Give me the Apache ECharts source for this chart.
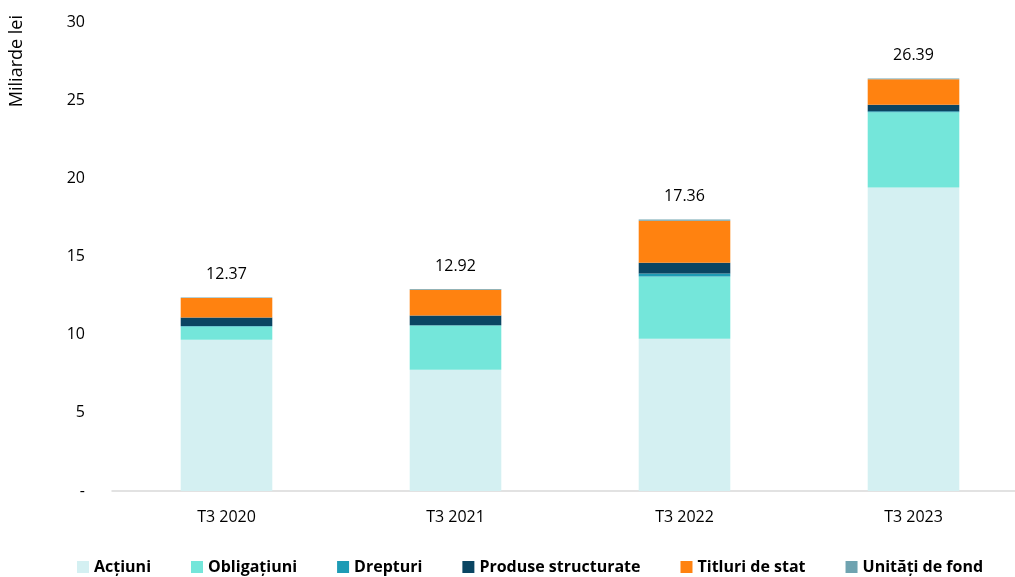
<!DOCTYPE html>
<html>
<head>
<meta charset="utf-8">
<script src="https://cdn.jsdelivr.net/npm/echarts@6/dist/echarts.min.js"></script>
<style>
	html, body { margin: 0; padding: 0; background: #fff; }
	#chart { width: 1015px; height: 577px; }
</style>
</head>
<body>
<div id="chart"></div>
<script>
// categorii (trimestre)
var categories = [ 'T3 2020', 'T3 2021', 'T3 2022', 'T3 2023' ];
// valori, miliarde lei
var actiuni = [ 9.68, 7.76, 9.74, 19.42 ];
var obligatiuni = [ 0.85, 2.82, 3.98, 4.81 ];
var drepturi = [ 0.02, 0.02, 0.20, 0.06 ];
var produseStructurate = [ 0.55, 0.62, 0.68, 0.42 ];
var titluriDeStat = [ 1.24, 1.66, 2.68, 1.62 ];
var unitatiDeFond = [ 0.03, 0.04, 0.08, 0.06 ];
var totals = [ '12.37', '12.92', '17.36', '26.39' ];
var yTicks = [ '-', '5', '10', '15', '20', '25', '30' ];

var font = "'Open Sans', 'Noto Sans', sans-serif";

function barSeries(name, data, color, withLabel) {
	var s = {
		name : name,
		type : 'bar',
		stack : 'total',
		barWidth : '40%',
		data : data,
		itemStyle : {
			color : color
		}
	};
	if (withLabel) {
		s.label = {
			show : true,
			position : 'top',
			distance : 15,
			color : '#000',
			fontFamily : font,
			fontSize : 16,
			formatter : function(p) {
				return totals[p.dataIndex];
			}
		};
	}
	return s;
}

var myChart = echarts.init(document.getElementById('chart'));
var option = {
	animation : false,
	textStyle : {
		fontFamily : font
	},
	grid : {
		left : 112,
		top : 22,
		width : 916,
		height : 469,
		outerBoundsMode : 'none'
	},
	legend : {
		bottom : -3,
		left : 72,
		itemWidth : 12,
		itemHeight : 12,
		itemGap : 40,
		icon : 'rect',
		textStyle : {
			fontFamily : font,
			fontWeight : 'bold',
			fontSize : 16,
			color : '#000'
		},
		data : [ 'Acțiuni', 'Obligațiuni', 'Drepturi', 'Produse structurate', 'Titluri de stat', 'Unități de fond' ]
	},
	graphic : [ {
		type : 'text',
		left : 8,
		top : 15,
		rotation : Math.PI / 2,
		style : {
			text : 'Miliarde lei',
			fontFamily : font,
			fontSize : 18,
			fill : '#000'
		}
	} ],
	xAxis : {
		type : 'category',
		data : categories,
		axisLine : {
			lineStyle : {
				color : '#d9d9d9',
				width : 1.5
			}
		},
		axisTick : {
			show : false
		},
		axisLabel : {
			color : '#000',
			fontSize : 16,
			margin : 18
		}
	},
	yAxis : {
		type : 'value',
		min : 0,
		max : 30,
		interval : 5,
		splitLine : {
			show : false
		},
		axisLabel : {
			color : '#000',
			fontSize : 16,
			margin : 27,
			formatter : function(v) {
				return yTicks[v / 5];
			}
		}
	},
	series : [
		barSeries('Acțiuni', actiuni, '#D4F0F2'),
		barSeries('Obligațiuni', obligatiuni, '#74E6DA'),
		barSeries('Drepturi', drepturi, '#1E9BB5'),
		barSeries('Produse structurate', produseStructurate, '#0A4562'),
		barSeries('Titluri de stat', titluriDeStat, '#FF8210'),
		barSeries('Unități de fond', unitatiDeFond, '#6FA3B0', true)
	]
};
myChart.setOption(option);
</script>
</body>
</html>
